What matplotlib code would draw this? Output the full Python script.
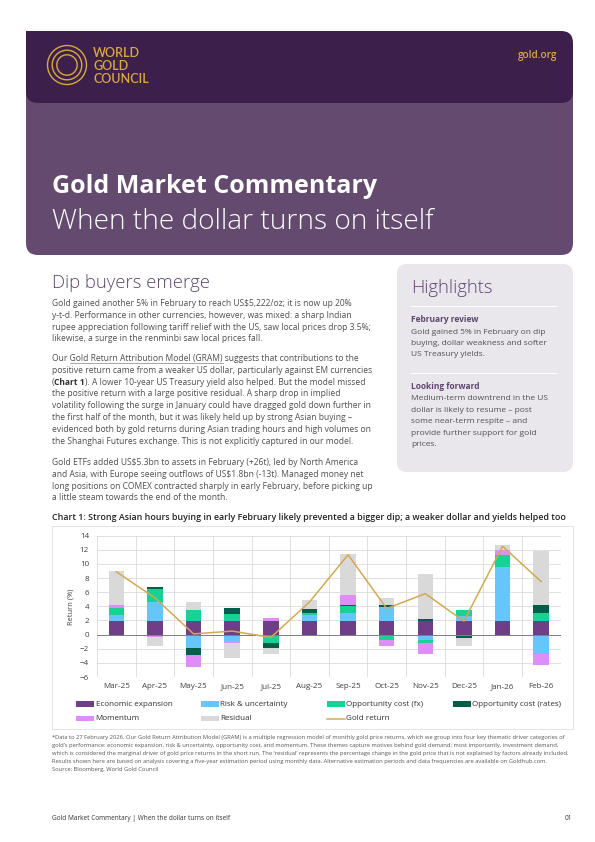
import matplotlib
matplotlib.use("Agg")
import matplotlib.pyplot as plt
from matplotlib.patches import FancyBboxPatch, Rectangle, Circle
import numpy as np

plt.rcParams['font.family'] = ['Open Sans', 'DejaVu Sans']

# Chart data (% contribution to monthly gold return)
months = ['Mar-25', 'Apr-25', 'May-25', 'Jun-25', 'Jul-25', 'Aug-25',
          'Sep-25', 'Oct-25', 'Nov-25', 'Dec-25', 'Jan-26', 'Feb-26']
econ = [1.95, 1.95, 1.95, 1.95, 1.95, 1.95, 1.95, 1.95, 1.95, 1.95, 1.95, 1.95]
risk = [0.8, 2.6, -1.9, -0.9, -0.25, 0.8, 1.1, 2.0, -0.7, 0.7, 7.6, -2.7]
opp_fx = [1.0, 1.9, 1.5, 1.0, -1.0, 0.25, 0.95, -0.7, -0.55, 0.9, 1.65, 1.1]
opp_rates = [-0.15, 0.3, -1.0, 0.85, -0.6, 0.65, 0.25, 0.2, 0.2, -0.55, -0.2, 1.2]
momentum = [0.5, -0.3, -1.75, -0.25, 0.4, -0.2, 1.4, -0.85, -1.55, 0.0, 0.75, -1.6]
residual = [4.75, -1.3, 1.2, -2.2, -0.95, 1.3, 5.7, 1.1, 6.4, -1.1, 0.8, 7.6]
gold_return = [8.9, 5.2, 0.1, 0.5, -0.4, 4.6, 11.3, 3.7, 5.8, 1.9, 12.5, 7.5]
y_ticks = [-6, -4, -2, 0, 2, 4, 6, 8, 10, 12, 14]

series_names = ['Economic expansion', 'Risk & uncertainty', 'Opportunity cost (fx)',
                'Opportunity cost (rates)', 'Momentum', 'Residual']
series_colors = ['#6e3f86', '#66c6fb', '#16d394', '#005e4b', '#df8ef7', '#d9d9d9']
GOLD_LINE = '#d6a74c'

# page text
para1 = ["Gold gained another 5% in February to reach US$5,222/oz; it is now up 20%",
         "y-t-d. Performance in other currencies, however, was mixed: a sharp Indian",
         "rupee appreciation following tariff relief with the US, saw local prices drop 3.5%;",
         "likewise, a surge in the renminbi saw local prices fall."]
para2 = ["Our Gold Return Attribution Model (GRAM) suggests that contributions to the",
         "positive return came from a weaker US dollar, particularly against EM currencies",
         "(Chart 1). A lower 10-year US Treasury yield also helped. But the model missed",
         "the positive return with a large positive residual. A sharp drop in implied",
         "volatility following the surge in January could have dragged gold down further in",
         "the first half of the month, but it was likely held up by strong Asian buying –",
         "evidenced both by gold returns during Asian trading hours and high volumes on",
         "the Shanghai Futures exchange. This is not explicitly captured in our model."]
para3 = ["Gold ETFs added US$5.3bn to assets in February (+26t), led by North America",
         "and Asia, with Europe seeing outflows of US$1.8bn (-13t). Managed money net",
         "long positions on COMEX contracted sharply in early February, before picking up",
         "a little steam towards the end of the month."]
hl_review = ["Gold gained 5% in February on dip",
             "buying, dollar weakness and softer",
             "US Treasury yields."]
hl_forward = ["Medium-term downtrend in the US",
              "dollar is likely to resume – post",
              "some near-term respite – and",
              "provide further support for gold",
              "prices."]
footnote = ["*Data to 27 February 2026. Our Gold Return Attribution Model (GRAM) is a multiple regression model of monthly gold price returns, which we group into four key thematic driver categories of",
            "gold’s performance: economic expansion, risk & uncertainty, opportunity cost, and momentum. These themes capture motives behind gold demand; most importantly, investment demand,",
            "which is considered the marginal driver of gold price returns in the short run. The ‘residual’ represents the percentage change in the gold price that is not explained by factors already included.",
            "Results shown here are based on analysis covering a five-year estimation period using monthly data. Alternative estimation periods and data frequencies are available on Goldhub.com.",
            "Source: Bloomberg, World Gold Council"]

DARK = '#3c1f4b'
MID = '#634a6e'
GOLD = '#d8a93d'
PURPLE_TXT = '#5d4570'
BODY = '#505050'
BODY_SIZE = 8.5

W, H = 595, 842
fig = plt.figure(figsize=(W / 72, H / 72), dpi=72)
bg = fig.add_axes([0, 0, 1, 1])
bg.set_xlim(0, W)
bg.set_ylim(H, 0)
bg.axis('off')
renderer = fig.canvas.get_renderer()


def txt(x, y, s, size=BODY_SIZE, color=BODY, weight='normal', ha='left', **kw):
    return bg.text(x, y, s, fontsize=size, color=color, fontweight=weight,
                   ha=ha, va='baseline', **kw)


def width(s, size=BODY_SIZE, weight='normal'):
    t = bg.text(0, 0, s, fontsize=size, fontweight=weight)
    w = t.get_window_extent(renderer).width
    t.remove()
    return w


# ---- header ----
bg.add_patch(FancyBboxPatch((26, 60), 547, 195, boxstyle='round,pad=0,rounding_size=12',
                            fc=MID, ec='none'))
bg.add_patch(FancyBboxPatch((26, 31), 547, 72, boxstyle='round,pad=0,rounding_size=12',
                            fc=DARK, ec='none'))
bg.add_patch(Rectangle((26, 31), 20, 20, fc=DARK, ec='none'))
for r in (19.5, 14.8, 10.2):
    bg.add_patch(Circle((67, 65), r, fc='none', ec=GOLD, lw=1.4))
for i, s in enumerate(['WORLD', 'GOLD', 'COUNCIL']):
    bg.text(93, 57 + 13 * i, s, fontsize=12.5, color=GOLD, family='Lato',
            fontweight='semibold', va='baseline')
txt(557, 58, 'gold.org', size=10, color=GOLD, weight='semibold', ha='right')
txt(52, 193, 'Gold Market Commentary', size=25, color='white', weight='bold')
txt(52, 229, 'When the dollar turns on itself', size=28, color='white', weight='light')

# ---- body ----
txt(52, 288, 'Dip buyers emerge', size=18.5, color=PURPLE_TXT, weight='light')
LEAD = 11.8
for i, s in enumerate(para1):
    txt(52, 306 + LEAD * i, s)
y2 = 361
for i, s in enumerate(para2):
    y = y2 + LEAD * i
    if i == 2:
        x1 = 52 + width('(x') - width('x')
        txt(52, y, '(')
        txt(x1, y, 'Chart 1', weight='bold', color='#333333')
        x2 = x1 + width('Chart 1', weight='bold')
        txt(x2, y, s[len('(Chart 1'):])
    else:
        txt(52, y, s)
u0 = 52 + width('Our x') - width('x')
u1 = 52 + width('Our Gold Return Attribution Model (GRAM)')
bg.plot([u0, u1], [y2 + 1.7, y2 + 1.7], color=BODY, lw=0.5)
for i, s in enumerate(para3):
    txt(52, 465 + LEAD * i, s)

# ---- highlights box ----
bg.add_patch(FancyBboxPatch((397, 264), 176, 208, boxstyle='round,pad=0,rounding_size=10',
                            fc='#e9e7ec', ec='none'))
txt(411, 293, 'Highlights', size=18.5, color=PURPLE_TXT, weight='light')
bg.plot([411, 556], [306, 306], color='white', lw=1)
txt(411, 322, 'February review', size=8.4, color=PURPLE_TXT, weight='bold')
for i, s in enumerate(hl_review):
    txt(411, 333.5 + 11.4 * i, s, size=8.4)
bg.plot([411, 556], [373, 373], color='white', lw=1)
txt(411, 389, 'Looking forward', size=8.4, color=PURPLE_TXT, weight='bold')
for i, s in enumerate(hl_forward):
    txt(411, 400.5 + 11.4 * i, s, size=8.4)

# ---- chart ----
txt(52, 520.5, 'Chart 1: Strong Asian hours buying in early February likely prevented a bigger dip; '
    'a weaker dollar and yields helped too', size=8.85, color='#222222', weight='semibold')
bg.add_patch(Rectangle((52, 525.5), 520.5, 203.5, fc='none', ec='#dcdcdc', lw=0.8))

ax = fig.add_axes([97 / W, 1 - 677 / H, (560.5 - 97) / W, (677 - 535.7) / H])
ax.patch.set_alpha(0)
x = np.arange(len(months))
pos = np.zeros(len(months))
neg = np.zeros(len(months))
for vals, c, name in zip([econ, risk, opp_fx, opp_rates, momentum, residual],
                         series_colors, series_names):
    v = np.array(vals)
    base = np.where(v >= 0, pos, neg)
    ax.bar(x, v, 0.4, bottom=base, color=c, label=name, zorder=2)
    pos += np.clip(v, 0, None)
    neg += np.clip(v, None, 0)
ax.plot(x, gold_return, color=GOLD_LINE, lw=1.5, zorder=3, label='Gold return')

ax.set_xlim(-0.5, len(months) - 0.5)
ax.set_ylim(-6, 14)
ax.set_yticks(y_ticks)
ax.set_xticks(x)
ax.set_xticklabels(months)
ax.set_xticks(np.arange(-0.5, len(months)), minor=True)
ax.grid(axis='y', which='major', color='#d9d9d9', lw=0.8, zorder=0)
ax.grid(axis='x', which='minor', color='#d9d9d9', lw=0.8, zorder=0)
ax.axhline(0, color='#808080', lw=1, zorder=2.5)
for sp in ax.spines.values():
    sp.set_visible(False)
ax.tick_params(which='both', length=0, labelsize=8, labelcolor='#404040')
ax.tick_params(axis='x', pad=6)
ax.tick_params(axis='y', pad=8)
ax.set_ylabel('Return (%)', fontsize=7.5, color='#404040', labelpad=5)

# legend
leg_x = [76, 201, 327, 452.5]
leg_y = [704, 718.5]
items = list(zip(series_names, series_colors))
slots = [(0, 0), (0, 1), (0, 2), (0, 3), (1, 0), (1, 1)]
for (name, c), (r, col) in zip(items, slots):
    bg.add_patch(Rectangle((leg_x[col], leg_y[r] - 2.8), 18, 5.6, fc=c, ec='none'))
    bg.text(leg_x[col] + 19.5, leg_y[r], name, fontsize=8, color='#303030', va='center')
bg.plot([leg_x[2], leg_x[2] + 18], [leg_y[1], leg_y[1]], color=GOLD_LINE, lw=1.5)
bg.text(leg_x[2] + 19.5, leg_y[1], 'Gold return', fontsize=8, color='#303030', va='center')

# footnote + footer
for i, s in enumerate(footnote):
    txt(52, 738.5 + 8.1 * i, s, size=5.8, color='#555555')
txt(52, 820, 'Gold Market Commentary | When the dollar turns on itself', size=6.5, color='#333333')
txt(572, 820, '01', size=6.5, color='#333333', ha='right')

fig.savefig('out.png', dpi=72)
